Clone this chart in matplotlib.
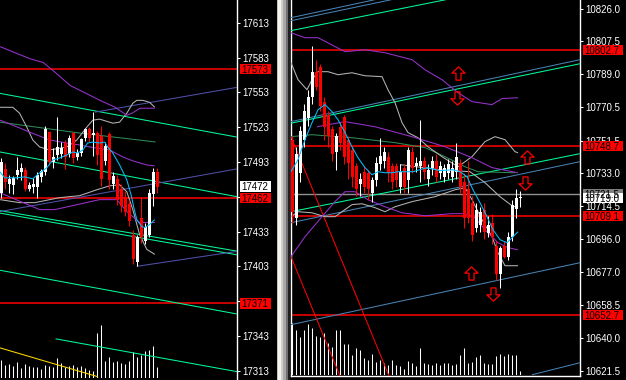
import matplotlib
matplotlib.use("Agg")
import matplotlib.pyplot as plt
from matplotlib.patches import Rectangle
from matplotlib.path import Path
from matplotlib.transforms import blended_transform_factory as btf

# ======================= LEFT CHART DATA =======================
L_open  = [17466, 17487, 17474, 17473, 17482, 17484, 17486, 17470, 17471, 17471,
           17480, 17484, 17519, 17493, 17499, 17500, 17509, 17500, 17518, 17497,
           17501, 17514, 17521, 17516, 17518, 17515, 17494, 17517, 17474, 17478,
           17470, 17463, 17457, 17430, 17407, 17445, 17425, 17430, 17465, 17484]
L_high  = [17496, 17492, 17482, 17481, 17497, 17492, 17489, 17476, 17479, 17484,
           17487, 17524, 17520, 17505, 17532, 17510, 17512, 17516, 17519, 17504,
           17514, 17522, 17523, 17536, 17520, 17524, 17510, 17519, 17484, 17482,
           17474, 17468, 17460, 17434, 17430, 17463, 17440, 17470, 17488, 17488]
L_low   = [17462, 17470, 17466, 17465, 17478, 17477, 17468, 17468, 17466, 17462,
           17476, 17482, 17490, 17488, 17495, 17496, 17487, 17497, 17492, 17495,
           17498, 17511, 17510, 17498, 17490, 17472, 17490, 17470, 17470, 17456,
           17450, 17446, 17438, 17405, 17403, 17423, 17422, 17428, 17455, 17466]
L_close = [17493, 17476, 17478, 17479, 17486, 17488, 17470, 17473, 17474, 17482,
           17485, 17521, 17493, 17497, 17506, 17505, 17497, 17514, 17496, 17501,
           17513, 17521, 17514, 17518, 17499, 17478, 17507, 17477, 17481, 17460,
           17455, 17450, 17442, 17409, 17428, 17428, 17437, 17466, 17484, 17471]
L_volume = [18, 13, 14, 12, 16, 10, 14, 12, 11, 11, 9, 13, 12, 11, 20, 15, 11, 12, 13, 11,
            12, 10, 8, 7, 45, 53, 17, 21, 16, 17, 15, 14, 17, 26, 21, 23, 27, 28, 32, 11]
L_ticks = [17313, 17343, 17373, 17403, 17433, 17463, 17493, 17523, 17553, 17583, 17613]
L_hidden_ticks = [17373, 17463]
L_red_levels = [17573, 17462, 17371]
L_current = 17472

# straight lines: x as bar index, y as price
L_edge_x = [-0.3, 58.95]
L_green_a = [17552.1, 17514.4]
L_green_b = [17501.6, 17463.0]
L_green_c1 = [17451.0, 17416.1]
L_green_c2 = [17448.9, 17412.9]
L_green_d = [17399.6, 17361.9]
L_green_e_x = [13.6, 58.95]
L_green_e = [17340.5, 17312.2]
L_seagreen_x = [-0.3, 19.6, 38.6]
L_seagreen = [17527.3, 17517.9, 17510.2]
L_slate1_x = [23.4, 58.95]
L_slate1 = [17535.9, 17557.3]
L_slate2_x = [-0.3, 58.95]
L_slate2 = [17450.2, 17487.0]
L_slate3_x = [33.9, 58.95]
L_slate3 = [17403.0, 17415.9]
L_gold_x = [-0.3, 24.1]
L_gold = [17332.7, 17307.9]

L_purple_up_x = [-0.3, 7.1, 10.5, 13.5, 17.2, 19.7, 24.7, 28.5, 31.4, 32.7, 34.7, 38.4]
L_purple_up = [17592.4, 17582.1, 17578.7, 17570.2, 17559.0, 17554.7, 17546.1, 17540.1, 17533.2, 17535.0, 17539.3, 17539.3]
L_purple_mid_x = [-0.3, 2.9, 7.1, 12.1, 16.4, 19.6, 22.1, 27.1, 30.4, 32.9, 36.4, 38.4]
L_purple_mid = [17529.0, 17524.7, 17518.7, 17511.9, 17509.3, 17507.6, 17505.9, 17503.3, 17497.3, 17493.9, 17490.4, 17489.6]
L_purple_low_x = [-0.3, 9.6, 13.4, 24.6, 28.9, 31.4, 34.6, 38.4]
L_purple_low = [17466.4, 17451.9, 17451.9, 17460.5, 17460.5, 17450.2, 17440.8, 17440.8]
L_gray_up_x = [-0.3, 2.9, 4.6, 6.4, 7.9, 9.6, 12.1, 16.4, 18.9, 21.4, 22.9, 24.6, 27.9, 29.6, 31.4, 32.9, 33.9, 35.4, 37.1, 38.4]
L_gray_up = [17540.1, 17540.1, 17535.0, 17523.0, 17511.9, 17505.9, 17503.3, 17505.9, 17511.9, 17523.0,
             17529.0, 17529.9, 17526.4, 17527.3, 17535.0, 17543.6, 17546.1, 17546.1, 17544.4, 17540.1]
L_gray_low_x = [-0.3, 4.6, 8.4, 14.6, 19.6, 23.9, 27.1, 29.6, 31.4, 32.9, 34.6, 36.4, 38.4]
L_gray_low = [17460.5, 17457.9, 17457.9, 17462.2, 17463.9, 17469.0, 17472.4, 17473.3, 17467.3, 17451.9, 17430.4, 17417.6, 17413.3]
L_cyan_x = [-0.3, 0.9, 3.9, 5.9, 7.9, 9.6, 11.4, 12.9, 14.6, 16.4, 17.9, 19.1, 20.4, 21.6, 22.9, 24.6,
            25.9, 26.6, 27.9, 29.6, 31.4, 32.6, 33.1, 33.9, 35.1, 35.9, 37.1, 38.4]
L_cyan = [17484.4, 17479.3, 17479.3, 17480.1, 17478.4, 17483.6, 17487.9, 17494.7, 17496.4, 17499.0,
          17501.6, 17500.7, 17503.3, 17509.3, 17510.1, 17509.3, 17510.1, 17505.9, 17500.7, 17490.4,
          17477.6, 17463.0, 17454.4, 17443.3, 17437.3, 17436.4, 17439.0, 17443.3]

# ======================= RIGHT CHART DATA =======================
R_open  = [10752, 10708, 10733, 10752, 10764, 10776, 10790, 10793, 10773, 10766,
           10758, 10745, 10759, 10765, 10752, 10746, 10737, 10727, 10734, 10733,
           10722, 10729, 10738, 10740, 10742, 10737, 10737, 10725, 10736, 10729,
           10745, 10737, 10737, 10740, 10730, 10736, 10740, 10733, 10731, 10733,
           10731, 10734, 10739, 10728, 10724, 10716, 10702, 10704, 10712, 10699,
           10705, 10692, 10676, 10692, 10686, 10697, 10713, 10719]
R_high  = [10754, 10748, 10760, 10772, 10780, 10805, 10797, 10795, 10776, 10768,
           10760, 10756, 10762, 10766, 10754, 10748, 10739, 10733, 10737, 10735,
           10731, 10742, 10753, 10748, 10745, 10739, 10739, 10738, 10738, 10748,
           10748, 10742, 10763, 10742, 10738, 10743, 10744, 10740, 10738, 10741,
           10740, 10750, 10741, 10733, 10740, 10720, 10716, 10714, 10716, 10709,
           10710, 10695, 10692, 10695, 10700, 10718, 10724, 10723]
R_low   = [10705, 10704, 10728, 10748, 10760, 10772, 10780, 10768, 10752, 10748,
           10740, 10735, 10746, 10738, 10730, 10725, 10720, 10720, 10722, 10718,
           10717, 10726, 10735, 10736, 10728, 10724, 10725, 10722, 10722, 10722,
           10733, 10734, 10728, 10730, 10726, 10732, 10728, 10730, 10728, 10730,
           10728, 10730, 10722, 10702, 10705, 10695, 10700, 10700, 10696, 10697,
           10693, 10673, 10668, 10685, 10684, 10695, 10708, 10714]
R_close = [10711, 10744, 10757, 10768, 10776, 10790, 10782, 10771, 10759, 10754,
           10744, 10754, 10750, 10742, 10739, 10731, 10724, 10730, 10725, 10724,
           10729, 10739, 10743, 10745, 10733, 10728, 10729, 10734, 10725, 10746,
           10736, 10739, 10740, 10734, 10735, 10740, 10731, 10737, 10736, 10738,
           10736, 10742, 10725, 10708, 10708, 10698, 10712, 10711, 10700, 10704,
           10697, 10676, 10691, 10686, 10697, 10715, 10719, 10719]
R_volume = [52, 45, 38, 45, 51, 47, 39, 38, 42, 32, 28, 45, 45, 31, 31, 20, 27, 25, 17, 15,
            21, 13, 15, 12, 10, 15, 10, 9, 6, 14, 12, 9, 27, 12, 11, 10, 12, 10, 12, 12,
            10, 11, 20, 27, 12, 13, 18, 20, 12, 11, 11, 19, 21, 19, 21, 20, 20, 4]
R_ticks = [10621.5, 10640.0, 10658.5, 10677.0, 10696.0, 10714.5, 10733.0, 10751.5, 10770.5, 10789.0, 10807.5, 10826.0]
R_red_levels = [10802.7, 10748.7, 10709.1, 10652.7]
R_gray_level = 10721.5
R_current = 10719.0

R_edge_x = [-0.25, 72.0]
R_blue_t1_x = [-0.25, 20.75]
R_blue_t1 = [10820.9, 10831.1]
R_blue_t2_x = [-0.25, 24.9]
R_blue_t2 = [10819.2, 10831.1]
R_green_t3_x = [-0.25, 38.5]
R_green_t3 = [10813.6, 10831.1]
R_blue_m = [10762.2, 10797.2]
R_green_m = [10761.3, 10794.9]
R_green_l = [10711.3, 10744.1]
R_blue_l = [10705.1, 10739.6]
R_blue_b1 = [10647.5, 10682.5]
R_blue_b2_x = [60.0, 72.0]
R_blue_b2 = [10619.2, 10626.0]
R_red_d1_x = [-0.25, 24.25]
R_red_d1 = [10753.7, 10618.5]
R_red_d2_x = [-0.25, 12.0]
R_red_d2 = [10685.9, 10618.5]

R_seagreen_x = [-0.25, 5, 15, 25.75, 33.25, 38.25, 43.25, 46.5, 55.75]
R_seagreen = [10753.7, 10754.8, 10753.1, 10750.3, 10747.5, 10742.4, 10736.7, 10733.9, 10733.3]
R_purple_up_x = [-0.25, 3.25, 6.5, 13.25, 18.25, 23.25, 30, 33.25, 37.5, 41.5, 45, 50, 52.5, 56.5]
R_purple_up = [10812.4, 10809.6, 10809.6, 10801.7, 10802.8, 10801.1, 10797.2, 10791.5, 10785.9, 10778.5,
               10773.5, 10771.8, 10775.2, 10775.7]
R_purple_mid_x = [6.25, 13.25, 20.75, 30, 38.25, 45, 50, 56.5]
R_purple_mid = [10759.3, 10762.2, 10759.3, 10753.7, 10748.0, 10741.8, 10736.2, 10733.3]
R_purple_low_x = [-0.25, 3.25, 7.5, 10.75, 13.25, 15.75, 19, 23.25, 27.5, 33.25, 40, 43.25, 45.75, 48.25, 51.5, 54, 56.5]
R_purple_low = [10685.9, 10697.2, 10708.5, 10717.0, 10722.6, 10722.6, 10718.1, 10714.1, 10710.7, 10709.0,
                10710.2, 10710.2, 10707.9, 10701.1, 10693.8, 10691.0, 10689.8]
R_gray_up_x = [-0.25, 1.5, 3.75, 5, 6.5, 9, 11.5, 15, 18.25, 22.5, 24, 25.75, 27.5, 29, 31.5, 34, 37.5,
               41.5, 45, 48.25, 50.75, 53.25, 55.75, 56.5]
R_gray_up = [10795.5, 10785.9, 10780.2, 10785.9, 10790.4, 10790.4, 10788.7, 10789.8, 10788.1, 10787.6,
             10780.2, 10772.9, 10761.6, 10756.0, 10753.1, 10748.0, 10742.4, 10736.7, 10742.4, 10750.9,
             10753.7, 10752.0, 10745.2, 10744.6]
R_gray_mid_x = [27, 37, 44.5, 48.25, 52, 55, 56.5]
R_gray_mid = [10737.9, 10735.0, 10733.9, 10727.7, 10719.8, 10714.7, 10713.6]
R_gray_low_x = [-0.25, 1.5, 5, 8.25, 10.75, 15, 17.5, 20.75, 23.25, 25.75, 30, 35.75, 40.75, 43.25, 45,
                47.5, 50, 51.5, 53.25, 56.5]
R_gray_low = [10708.5, 10711.3, 10710.7, 10708.5, 10708.5, 10715.3, 10715.8, 10713.6, 10711.3, 10714.1,
              10717.0, 10719.8, 10723.7, 10724.9, 10718.1, 10706.8, 10697.2, 10688.1, 10680.8, 10680.8]
R_cyan_x = [-0.25, 1.5, 3.25, 5, 6.5, 8.25, 10, 11.5, 13.25, 15, 16.5, 18.25, 20, 21.5, 23.25, 25, 26.5,
            28.25, 30.25, 33.75, 37, 40.25, 42, 43.75, 45.25, 47, 48.75, 50.25, 52, 53.75, 55.25, 56.5]
R_cyan = [10733.9, 10740.7, 10752.0, 10761.6, 10768.9, 10771.8, 10767.8, 10763.3, 10756.0, 10748.0,
          10741.8, 10736.2, 10732.2, 10733.9, 10733.3, 10733.3, 10733.9, 10733.9, 10733.9, 10736.2,
          10734.5, 10735.0, 10733.9, 10731.1, 10723.7, 10716.4, 10708.5, 10701.1, 10695.5, 10693.8,
          10697.2, 10700.0]
R_arrow_up_x = [41.5, 58.75, 44.75]
R_arrow_up = [10789.7, 10742.2, 10676.7]
R_arrow_dn_x = [41.25, 58.25, 50.25]
R_arrow_dn = [10775.6, 10727.5, 10664.9]

# ======================= STYLE =======================
W, H = 626, 380
FONT = "Liberation Sans"
FS = 7
LW = 0.75
RED = "#FF0000"
GREEN = "#00FA9A"
SEAGREEN = "#2E8B57"
SLATE = "#5050A8"
STEEL = "#4682B4"
PURPLE = "#9932CC"
GRAY = "#B4B4B4"
CYAN = "#00BFFF"
GOLD = "#FFD700"

fig = plt.figure(figsize=(W / 100, H / 100), dpi=100, facecolor="black")


def fx(px):
    return px / W


def fy(px_from_top):
    return 1 - px_from_top / H


# volume axes (behind)
vL = fig.add_axes([0, fy(378), fx(237), 378 / H], facecolor="black")
vR = fig.add_axes([fx(291), fy(375), fx(289), 375 / H], facecolor="black")
axL = fig.add_axes([0, 0, fx(237), 1], facecolor="none")
axR = fig.add_axes([fx(291), fy(376), fx(289), 376 / H], facecolor="none")

for v, vols, top in ((vL, L_volume, 378), (vR, R_volume, 375)):
    v.set_axis_off()
    v.vlines(range(len(vols)), 0, vols, color="white", lw=LW)
    v.set_ylim(0, top)
vL.set_xlim(-0.3, 58.95)
vR.set_xlim(-0.25, 72.0)


def draw_candles(ax, o, h, l, c, mind):
    for i in range(len(o)):
        col = "white" if c[i] >= o[i] else RED
        ax.vlines(i, l[i], h[i], color=col, lw=LW, zorder=4)
        lo, hi = min(o[i], c[i]), max(o[i], c[i])
        ax.bar(i, max(hi - lo, mind), bottom=lo, width=0.75, color=col, lw=0, zorder=4)


def line(ax, x, y, color, lw=LW, z=3):
    ax.plot(x, y, color=color, lw=lw, solid_capstyle="butt", zorder=z)


def setup_axis(ax, ticks, labels, ylim, xlim, left_spine=False, bottom_spine=False):
    ax.set_xlim(*xlim)
    ax.set_ylim(*ylim)
    for s in ("top", "left", "bottom"):
        ax.spines[s].set_visible(False)
    ax.spines["right"].set_color("white")
    ax.spines["right"].set_linewidth(1)
    if left_spine:
        ax.spines["left"].set_visible(True)
        ax.spines["left"].set_color("white")
        ax.spines["left"].set_linewidth(1)
    if bottom_spine:
        ax.spines["bottom"].set_visible(True)
        ax.spines["bottom"].set_color("white")
        ax.spines["bottom"].set_linewidth(1)
    ax.set_xticks([])
    ax.yaxis.tick_right()
    ax.set_yticks(ticks)
    ax.set_yticklabels(labels)
    ax.tick_params(axis="y", colors="white", length=2.2, width=0.75, pad=1.4, labelsize=FS, left=False)
    for t in ax.get_yticklabels():
        t.set_fontfamily(FONT)


def price_label(ax, price, text, fc, tc, x0, w, tx, h):
    tr = btf(ax.transAxes, ax.transData)
    ax.add_patch(Rectangle((x0, price - h / 2), w, h, transform=tr, facecolor=fc, edgecolor="none",
                           clip_on=False, zorder=8))
    ax.text(tx, price, text, transform=tr, color=tc, fontsize=FS, family=FONT, va="center_baseline",
            ha="left", clip_on=False, zorder=9)


# ---------------- left chart ----------------
L_labels = ["" if t in L_hidden_ticks else "{:d}".format(t) for t in L_ticks]
setup_axis(axL, L_ticks, L_labels, (17305.0, 17632.6), (-0.3, 58.95))
for p in L_red_levels:
    axL.axhline(p, color=RED, lw=1.1, zorder=2)
for yy in (L_green_a, L_green_b, L_green_c1, L_green_c2, L_green_d):
    line(axL, L_edge_x, yy, GREEN)
line(axL, L_green_e_x, L_green_e, GREEN)
line(axL, L_seagreen_x, L_seagreen, SEAGREEN)
line(axL, L_slate1_x, L_slate1, SLATE)
line(axL, L_slate2_x, L_slate2, SLATE)
line(axL, L_slate3_x, L_slate3, SLATE)
line(axL, L_gold_x, L_gold, GOLD)
line(axL, L_gray_up_x, L_gray_up, GRAY)
line(axL, L_gray_low_x, L_gray_low, GRAY)
line(axL, L_purple_up_x, L_purple_up, PURPLE)
line(axL, L_purple_mid_x, L_purple_mid, PURPLE)
line(axL, L_purple_low_x, L_purple_low, PURPLE)
draw_candles(axL, L_open, L_high, L_low, L_close, 0.9)
line(axL, L_cyan_x, L_cyan, CYAN, z=5)

hL = 10.5 / 1.16
for p, fc in ((L_red_levels[0], RED), (L_current, "white"), (L_red_levels[1], RED), (L_red_levels[2], RED)):
    price_label(axL, p, "{:d}".format(p), fc, "black", 240 / 237, 31 / 237, 241.5 / 237, hL)

# ---------------- right chart ----------------
R_labels = ["{:.1f}".format(t) for t in R_ticks]
setup_axis(axR, R_ticks, R_labels, (10618.5, 10830.9), (-0.25, 72.0), left_spine=True, bottom_spine=True)
for p in R_red_levels:
    axR.axhline(p, color=RED, lw=1.1, zorder=2)
axR.axhline(R_gray_level, color="#909090", lw=1.0, zorder=2)
line(axR, R_blue_t1_x, R_blue_t1, STEEL)
line(axR, R_blue_t2_x, R_blue_t2, STEEL)
line(axR, R_green_t3_x, R_green_t3, GREEN)
line(axR, R_edge_x, R_blue_m, STEEL)
line(axR, R_edge_x, R_green_m, GREEN)
line(axR, R_edge_x, R_green_l, GREEN)
line(axR, R_edge_x, R_blue_l, STEEL)
line(axR, R_edge_x, R_blue_b1, STEEL)
line(axR, R_blue_b2_x, R_blue_b2, STEEL)
line(axR, R_red_d1_x, R_red_d1, RED)
line(axR, R_red_d2_x, R_red_d2, RED)
line(axR, R_seagreen_x, R_seagreen, SEAGREEN)
line(axR, R_gray_up_x, R_gray_up, GRAY)
line(axR, R_gray_mid_x, R_gray_mid, GRAY)
line(axR, R_gray_low_x, R_gray_low, GRAY)
line(axR, R_purple_up_x, R_purple_up, PURPLE)
line(axR, R_purple_mid_x, R_purple_mid, PURPLE)
line(axR, R_purple_low_x, R_purple_low, PURPLE)
draw_candles(axR, R_open, R_high, R_low, R_close, 0.6)
line(axR, R_cyan_x, R_cyan, CYAN, z=5)

up_arrow = Path([(0, 1), (1, 0.05), (0.38, 0.05), (0.38, -1), (-0.38, -1), (-0.38, 0.05), (-1, 0.05), (0, 1)],
                [Path.MOVETO] + [Path.LINETO] * 6 + [Path.CLOSEPOLY])
dn_arrow = Path([(0, -1), (1, -0.05), (0.38, -0.05), (0.38, 1), (-0.38, 1), (-0.38, -0.05), (-1, -0.05), (0, -1)],
                [Path.MOVETO] + [Path.LINETO] * 6 + [Path.CLOSEPOLY])
axR.plot(R_arrow_up_x, R_arrow_up, ls="none", marker=up_arrow, markersize=9.5, markerfacecolor="none",
         markeredgecolor=RED, markeredgewidth=0.9, zorder=6, clip_on=False)
axR.plot(R_arrow_dn_x, R_arrow_dn, ls="none", marker=dn_arrow, markersize=9.5, markerfacecolor="none",
         markeredgecolor=RED, markeredgewidth=0.9, zorder=6, clip_on=False)

hR = 10.0 / 1.7702
x0R, wR, txR = (582.7 - 291) / 289, 40 / 289, (584.5 - 291) / 289
for p, fc in ((R_red_levels[0], RED), (R_red_levels[1], RED), (R_gray_level, "#808080"),
              (R_current, "white"), (R_red_levels[2], RED), (R_red_levels[3], RED)):
    price_label(axR, p, "{:.1f}".format(p), fc, "black", x0R, wR, txR, hR)

# ---------------- scroll bar between the charts ----------------
for x0, x1, col in ((276.7, 278.3, "#C8C4BC"), (278.3, 280.7, "#F4F4F4"), (280.7, 283.3, "#D4D0C8"),
                    (283.3, 286.0, "#A8A8A8"), (286.0, 288.0, "#707070"), (288.0, 290.0, "#202020")):
    fig.patches.append(Rectangle((fx(x0), 0), fx(x1 - x0), 1, transform=fig.transFigure,
                                 facecolor=col, edgecolor="none", zorder=10))

fig.savefig("out.png", dpi=100, facecolor="black")
